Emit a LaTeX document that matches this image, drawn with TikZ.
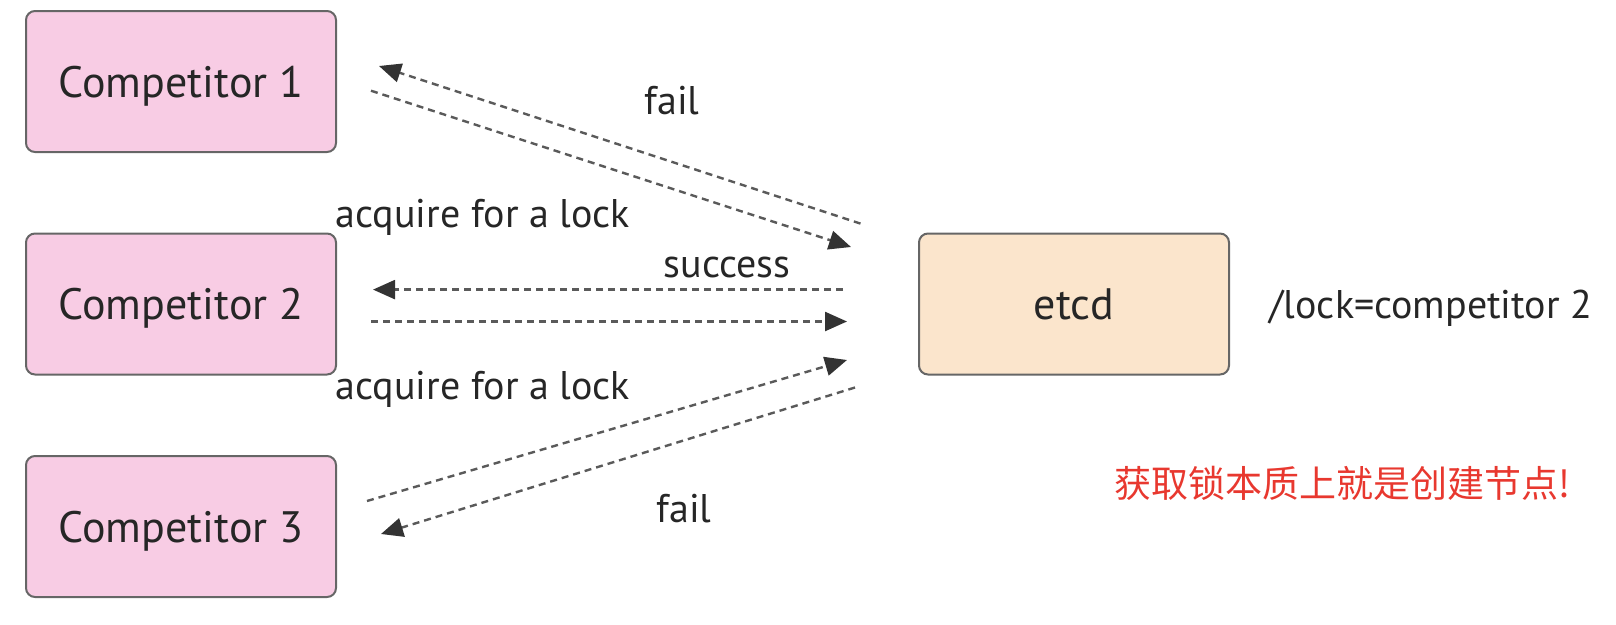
\documentclass[tikz,border=0pt]{standalone}
\usepackage{fontspec}
\setmainfont{PT Sans}
\newfontfamily\cjk{Noto Sans CJK SC}
\usetikzlibrary{arrows.meta}
\definecolor{pinkfill}{HTML}{F8CCE4}
\definecolor{peachfill}{HTML}{FBE5CC}
\definecolor{boxline}{HTML}{666666}
\definecolor{dashcol}{HTML}{5A5A5A}
\definecolor{headcol}{HTML}{333333}
\definecolor{txt}{HTML}{262626}
\definecolor{redtxt}{HTML}{E8382F}
\tikzset{
  compbox/.style={draw=boxline, line width=2pt, rounded corners=9pt, fill=pinkfill,
    minimum width=310pt, minimum height=141pt, inner sep=0pt, text depth=0pt,
    font=\fontsize{44}{50}\selectfont, text=txt},
  etcdbox/.style={compbox, fill=peachfill},
  lbl/.style={font=\fontsize{40}{46}\selectfont, text=txt, inner sep=0pt},
  msg/.style={dashcol, line width=2.4pt, dash pattern=on 7pt off 5pt,
    -{Triangle[length=22pt,width=19pt,color=headcol]}}
}
\begin{document}
\begin{tikzpicture}[x=1pt,y=-1pt]
\useasboundingbox (0,0) rectangle (1616,624);
\node[compbox] (c1) at (181,81.5) {Competitor 1};
\node[compbox] (c2) at (181,304) {Competitor 2};
\node[compbox] (c3) at (181,526.5) {Competitor 3};
\node[etcdbox] (etcd) at (1074,304) {etcd};
\node[lbl] (lockval) at (1431,308) {/lock=competitor 2};
\node[text=redtxt, inner sep=0pt, font=\cjk\fontsize{37}{42}\selectfont] (note) at (1342,483) {获取锁本质上就是创建节点!};
\node[lbl] (fail1) at (672,101) {fail};
\node[lbl] (acq1) at (483,217) {acquire for a lock};
\node[lbl] (succ) at (727,267) {success};
\node[lbl] (acq2) at (483,389) {acquire for a lock};
\node[lbl] (fail2) at (684,509) {fail};
\coordinate (f1s) at (860.5,223.6);
\coordinate (f1e) at (379,66);
\coordinate (a1s) at (371,90.7);
\coordinate (a1e) at (851,247);
\coordinate (ss) at (843,289.6);
\coordinate (se) at (373,289.6);
\coordinate (a2s) at (371,321.5);
\coordinate (a2e) at (847,321.5);
\coordinate (a3s) at (367,501);
\coordinate (a3e) at (847,360);
\coordinate (f2s) at (855,387.5);
\coordinate (f2e) at (381,534);
\draw[msg] (f1s) -- (f1e);
\draw[msg] (a1s) -- (a1e);
\draw[msg] (ss) -- (se);
\draw[msg] (a2s) -- (a2e);
\draw[msg] (a3s) -- (a3e);
\draw[msg] (f2s) -- (f2e);
\end{tikzpicture}
\end{document}
